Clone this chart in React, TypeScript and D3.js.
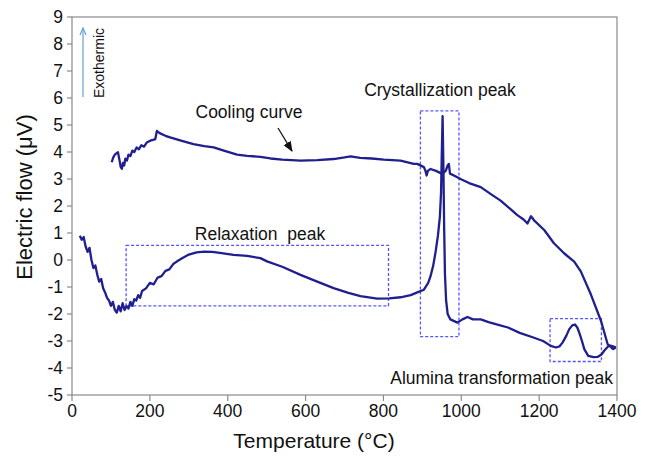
import React from 'react';
import * as d3 from 'd3';

// heating run (lower curve)
const heatT = [20, 25, 30, 35, 40, 45, 50, 55, 60, 65, 70, 75, 80, 85, 90, 95, 100, 105, 110, 115, 120, 125, 130, 135, 140, 145, 150, 155, 160, 165, 170, 175, 180, 190, 200, 210, 220, 230, 240, 250, 260, 270, 285, 300, 320, 340, 360, 380, 415, 450, 484, 501, 540, 587, 630, 672, 710, 741, 784, 815, 844, 870, 887, 904, 915, 921, 928, 934, 940, 945, 948, 950, 952, 954, 956, 958, 961, 965, 972, 990, 1003, 1016, 1030, 1050, 1070, 1093, 1120, 1150, 1187, 1210, 1230, 1243, 1252, 1260, 1270, 1277, 1285, 1292, 1298, 1303, 1310, 1316, 1326, 1340, 1350, 1360, 1367, 1380, 1390, 1397];
const heatV = [0.9, 0.75, 0.85, 0.5, 0.3, 0.45, 0.0, -0.3, -0.2, -0.55, -0.8, -0.7, -1.05, -1.2, -1.4, -1.5, -1.7, -1.55, -1.85, -1.95, -1.7, -1.9, -1.6, -1.85, -1.7, -1.8, -1.55, -1.7, -1.45, -1.5, -1.3, -1.4, -1.15, -1.05, -0.85, -0.9, -0.65, -0.6, -0.4, -0.35, -0.15, -0.05, 0.08, 0.2, 0.28, 0.31, 0.3, 0.26, 0.19, 0.15, 0.07, -0.05, -0.25, -0.55, -0.8, -1.04, -1.22, -1.34, -1.43, -1.42, -1.38, -1.3, -1.2, -1.1, -0.85, -0.6, -0.2, 0.3, 0.9, 1.6, 2.5, 4.0, 5.33, 3.5, 1.2, -0.5, -1.5, -2.0, -2.2, -2.32, -2.2, -2.11, -2.2, -2.2, -2.3, -2.39, -2.5, -2.7, -2.88, -3.0, -3.18, -3.24, -3.2, -3.06, -2.8, -2.57, -2.42, -2.39, -2.5, -2.69, -3.0, -3.3, -3.55, -3.6, -3.59, -3.5, -3.36, -3.16, -3.2, -3.24];

// cooling run (upper curve)
const coolT = [102, 106, 110, 114, 118, 122, 125, 128, 131, 134, 137, 141, 145, 150, 155, 160, 166, 172, 178, 185, 192, 201, 208, 214, 218, 225, 240, 252, 280, 312, 340, 364, 390, 424, 450, 484, 510, 540, 587, 630, 672, 700, 716, 740, 770, 801, 844, 878, 887, 904, 908, 911, 914, 921, 935, 951, 960, 965, 968, 971, 985, 998, 1020, 1050, 1075, 1101, 1125, 1144, 1160, 1170, 1175, 1179, 1187, 1213, 1238, 1264, 1290, 1307, 1333, 1359, 1376, 1390, 1397];
const coolV = [3.62, 3.8, 3.9, 3.95, 3.99, 3.7, 3.45, 3.38, 3.6, 3.5, 3.75, 3.68, 3.9, 3.85, 4.05, 4.0, 4.17, 4.1, 4.25, 4.2, 4.35, 4.42, 4.45, 4.48, 4.78, 4.7, 4.6, 4.54, 4.42, 4.29, 4.22, 4.17, 4.05, 3.9, 3.86, 3.82, 3.76, 3.72, 3.68, 3.7, 3.74, 3.8, 3.84, 3.78, 3.76, 3.72, 3.68, 3.56, 3.56, 3.44, 3.3, 3.13, 3.3, 3.37, 3.3, 3.19, 3.3, 3.5, 3.56, 3.2, 3.1, 3.0, 2.85, 2.7, 2.45, 2.2, 1.9, 1.66, 1.5, 1.35, 1.5, 1.62, 1.47, 1.11, 0.62, 0.25, -0.06, -0.42, -1.28, -2.26, -3.12, -3.3, -3.24];

const xTicks = [0, 200, 400, 600, 800, 1000, 1200, 1400];
const yTicks = [-5, -4, -3, -2, -1, 0, 1, 2, 3, 4, 5, 6, 7, 8, 9];

// dashed peak boxes: [T0, T1, v0, v1]
const peakBoxes = [
  [139, 813, 0.54, -1.7],
  [895, 994, 5.52, -2.84],
  [1228, 1360, -2.17, -3.76],
];

const W = 647, H = 462;
const m = {top: 17, right: 30, bottom: 67, left: 72};

const App = () => {
  if (typeof document !== 'undefined') document.body.style.margin = '0';
  const x = d3.scaleLinear().domain([0, 1400]).range([m.left, W - m.right]);
  const y = d3.scaleLinear().domain([-5, 9]).range([H - m.bottom, m.top]);
  const line = d3.line<number[]>().x(d => x(d[0])).y(d => y(d[1]));
  const heat = heatT.map((t, i) => [t, heatV[i]]);
  const cool = coolT.map((t, i) => [t, coolV[i]]);
  const font = 'Liberation Sans, Arial, sans-serif';
  const axisCol = '#8a8a8a';
  const curveCol = '#1f1f8f';
  const boxCol = '#5555ff';
  const annSize = 17.5;

  return (
    <svg width={W} height={H} style={{display: 'block', background: '#fff'}} fontFamily={font}>
      <defs>
        <marker id="blackArrow" viewBox="0 0 10 10" refX="9" refY="5" markerWidth="8" markerHeight="8" orient="auto">
          <path d="M0,1 L10,5 L0,9 z" fill="#111" />
        </marker>
      </defs>

      {/* frame */}
      <rect x={x(0)} y={y(9)} width={x(1400) - x(0)} height={y(-5) - y(9)} fill="none" stroke={axisCol} strokeWidth={1.2} />

      {/* y ticks */}
      {yTicks.map(v => (
        <g key={'y' + v}>
          <line x1={x(0) - 5} x2={x(0)} y1={y(v)} y2={y(v)} stroke={axisCol} strokeWidth={1.2} />
          <text x={x(0) - 9} y={y(v)} dy="0.36em" textAnchor="end" fontSize={17.5} fill="#111">{v}</text>
        </g>
      ))}
      {/* x ticks */}
      {xTicks.map(t => (
        <g key={'x' + t}>
          <line x1={x(t)} x2={x(t)} y1={y(-5)} y2={y(-5) + 6} stroke={axisCol} strokeWidth={1.2} />
          <text x={x(t)} y={y(-5) + 22} textAnchor="middle" fontSize={17.5} fill="#111">{t}</text>
        </g>
      ))}

      <text x={314} y={448} textAnchor="middle" fontSize={21} fill="#111">Temperature (°C)</text>
      <text transform="translate(32,197) rotate(-90)" textAnchor="middle" fontSize={22} fill="#111">Electric flow (μV)</text>

      {/* peak boxes */}
      {peakBoxes.map((b, i) => (
        <rect key={'b' + i} x={x(b[0])} y={y(b[2])} width={x(b[1]) - x(b[0])} height={y(b[3]) - y(b[2])}
          fill="none" stroke={boxCol} strokeWidth={1.3} strokeDasharray="3,2" />
      ))}

      {/* curves */}
      <path d={line(cool) || ''} fill="none" stroke={curveCol} strokeWidth={2.3} strokeLinejoin="round" />
      <path d={line(heat) || ''} fill="none" stroke={curveCol} strokeWidth={2.3} strokeLinejoin="round" />

      {/* annotations */}
      <line x1={83} y1={97} x2={83} y2={28} stroke="#6a9fd8" strokeWidth={1.2} />
      <path d="M80,35 L83,28 L86,35" fill="none" stroke="#6a9fd8" strokeWidth={1.2} />
      <text transform="translate(104,63) rotate(-90)" textAnchor="middle" fontSize={14} fill="#111">Exothermic</text>
      <text x={249} y={118} textAnchor="middle" fontSize={annSize} fill="#111">Cooling curve</text>
      <line x1={278} y1={128} x2={292} y2={151} stroke="#111" strokeWidth={1.3} markerEnd="url(#blackArrow)" />
      <text x={440} y={96} textAnchor="middle" fontSize={annSize} fill="#111">Crystallization peak</text>
      <text x={260} y={240} textAnchor="middle" fontSize={annSize} fill="#111" xmlSpace="preserve">Relaxation  peak</text>
      <text x={613} y={384} textAnchor="end" fontSize={annSize} fill="#111">Alumina transformation peak</text>
    </svg>
  );
};

export default App;
